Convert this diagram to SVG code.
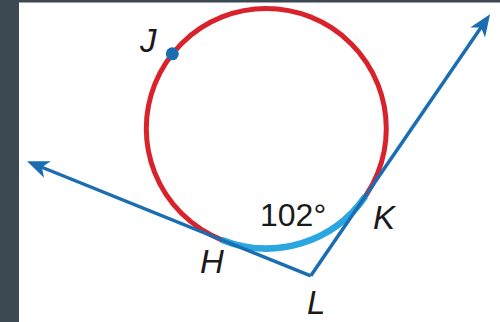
<svg xmlns="http://www.w3.org/2000/svg" width="500" height="322" viewBox="0 0 500 322">
  <style>
    .ray { stroke: #1b6db3; stroke-width: 3.5; fill: none; }
    .lbl { font-family: "Liberation Sans", Arial, sans-serif; font-style: italic; font-size: 33px; fill: #1a1a1a; }
    .num { font-family: "Liberation Sans", Arial, sans-serif; font-size: 32px; fill: #1a1a1a; }
  </style>
  <defs>
    <marker id="arr" markerUnits="userSpaceOnUse" viewBox="-14 -11 26 22" markerWidth="26" markerHeight="22" refX="0" refY="0" orient="auto">
      <path d="M10,0 L-12,-9 L-6,0 L-12,9 Z" fill="#1b6db3"/>
    </marker>
  </defs>
  <rect x="0" y="0" width="500" height="322" fill="#ffffff"/>
  <rect x="0" y="0" width="19" height="322" fill="#3c4852"/>
  <rect x="0" y="0" width="500" height="2.5" fill="#3c4852"/>

  <g id="circle">
    <circle cx="266.3" cy="128.5" r="120" fill="none" stroke="#d9232c" stroke-width="5"/>
  </g>
  <g id="arcHK">
    <path d="M221.4,239.7 A120,120 0 0 0 365.3,196.3" fill="none" stroke="#2aa7e0" stroke-width="6.5"/>
  </g>
  <g id="connectors">
    <path class="ray" d="M310.8,275.8 L36.3,165.0" marker-end="url(#arr)"/>
    <path class="ray" d="M310.8,275.8 L484.4,22.6" marker-end="url(#arr)"/>
  </g>
  <g id="J">
    <circle cx="172.3" cy="53.8" r="6.5" fill="#1b6db3"/>
    <text class="lbl" x="140" y="52">J</text>
  </g>
  <g id="H"><text class="lbl" x="200" y="273">H</text></g>
  <g id="K"><text class="lbl" x="373" y="229">K</text></g>
  <g id="L"><text class="lbl" x="307" y="314">L</text></g>
  <g id="angle"><text class="num" x="260" y="226">102°</text></g>
</svg>
